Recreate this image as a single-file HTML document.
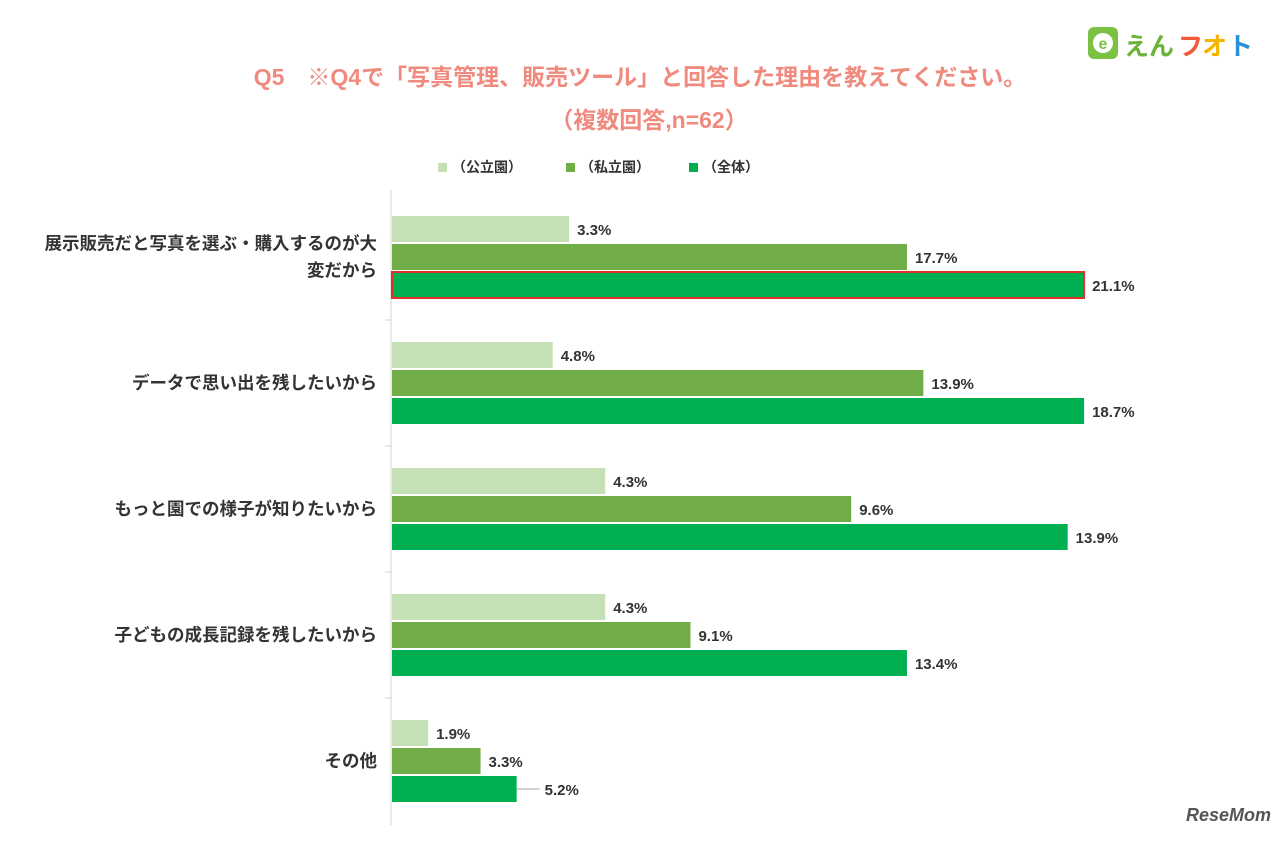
<!DOCTYPE html>
<html><head><meta charset="utf-8">
<style>
body{margin:0;width:1272px;height:840px;background:#fff;overflow:hidden;font-family:"Liberation Sans","Noto Sans CJK JP",sans-serif;}
svg text{font-family:"Liberation Sans","Noto Sans CJK JP",sans-serif;}
</style></head><body>
<svg id="c" width="1272" height="840" xmlns="http://www.w3.org/2000/svg">
<text x="640" y="85" text-anchor="middle" font-size="23" font-weight="bold" fill="#f08a7e">Q5　※Q4で「写真管理、販売ツール」と回答した理由を教えてください。</text>
<text x="649" y="128" text-anchor="middle" font-size="23" font-weight="bold" fill="#f08a7e">（複数回答,n=62）</text>
<g>
<rect x="1088" y="27" width="30" height="32" rx="6" fill="#7cc242"/>
<circle cx="1103" cy="43" r="10" fill="#fff"/>
<text x="1103" y="49" text-anchor="middle" font-size="16" font-weight="bold" fill="#7cc242">e</text>
<text x="1124" y="55" font-size="25" font-weight="bold" fill="#6bb33a">えん</text>
<text x="1178" y="55" font-size="25" font-weight="bold" fill="#ef5a3c">フ</text>
<text x="1202" y="55" font-size="25" font-weight="bold" fill="#f4b400">オ</text>
<text x="1228" y="55" font-size="25" font-weight="bold" fill="#2a8fd6">ト</text>
</g>
<g id="legend"></g>
<line x1="391" y1="190" x2="391" y2="825" stroke="#d0d0d0"/>
<g id="bars"></g>
<text x="1186" y="821" font-size="18" font-weight="bold" fill="#555" font-style="italic">ReseMom</text>
</svg>
<script>
const categories = [["展示販売だと写真を選ぶ・購入するのが大","変だから"],["データで思い出を残したいから"],["もっと園での様子が知りたいから"],["子どもの成長記録を残したいから"],["その他"]];
const seriesNames = ["（公立園）","（私立園）","（全体）"];
const publicVals = [5.4, 4.9, 6.5, 6.5, 1.1];
const privateVals = [15.7, 16.2, 14.0, 9.1, 2.7];
const totalVals = [21.1, 21.1, 20.6, 15.7, 3.8];
const publicLabels = ["3.3%","4.8%","4.3%","4.3%","1.9%"];
const privateLabels = ["17.7%","13.9%","9.6%","9.1%","3.3%"];
const totalLabels = ["21.1%","18.7%","13.9%","13.4%","5.2%"];
const colors = ["#c5e0b4","#70ad47","#00b050"];
const NS="http://www.w3.org/2000/svg";
const x0=391, pxPer=32.8;
function xs(v){return x0+v*pxPer;}
function groupTop(i){return 216+i*126;}
const svg=document.getElementById('bars');
const leg=document.getElementById('legend');
function mk(t,a,p){const e=document.createElementNS(NS,t);for(const k in a)e.setAttribute(k,a[k]);(p||svg).appendChild(e);return e;}
const legX=[438,566,689];
seriesNames.forEach((n,i)=>{
 const r=mk('rect',{x:legX[i],y:163,width:9,height:9,fill:colors[i]},leg);
 
 
 const t=mk('text',{x:legX[i]+14,y:172,'font-size':14,'font-weight':'bold',fill:'#333'},leg);
 t.textContent=n;
 
 
});
const sets=[[publicVals,publicLabels],[privateVals,privateLabels],[totalVals,totalLabels]];
categories.forEach((cat,i)=>{
 const top=groupTop(i);
 sets.forEach((s,j)=>{
  const y=top+j*28, w=xs(s[0][i])-x0;
  const r=mk('rect',{x:x0+1,y:y,width:w,height:26,fill:colors[j]});
  if(i===0&&j===2){r.setAttribute('stroke','#e0302a');r.setAttribute('stroke-width','2');}
  
  
  let lx=xs(s[0][i])+9;
  if(i===4&&j===2){const l=mk('line',{x1:xs(s[0][i])+1,y1:y+13,x2:xs(s[0][i])+24,y2:y+13,stroke:'#aaa'});lx+=20;}
  const t=mk('text',{x:lx,y:y+19,'font-size':15,'font-weight':'bold',fill:'#333'});
  t.textContent=s[1][i];
  
  
 });
 const cy=top+41;
 cat.forEach((line,k)=>{
  const t=mk('text',{x:377,y:cy+6+(k-(cat.length-1)/2)*27,'font-size':17.5,'font-weight':'bold',fill:'#333','text-anchor':'end'});
  t.textContent=line;
  
  
 });
 if(i<categories.length-1){const tk=mk('line',{x1:385,y1:top+104,x2:391,y2:top+104,stroke:'#d0d0d0'});}
});
</script>
</body></html>
